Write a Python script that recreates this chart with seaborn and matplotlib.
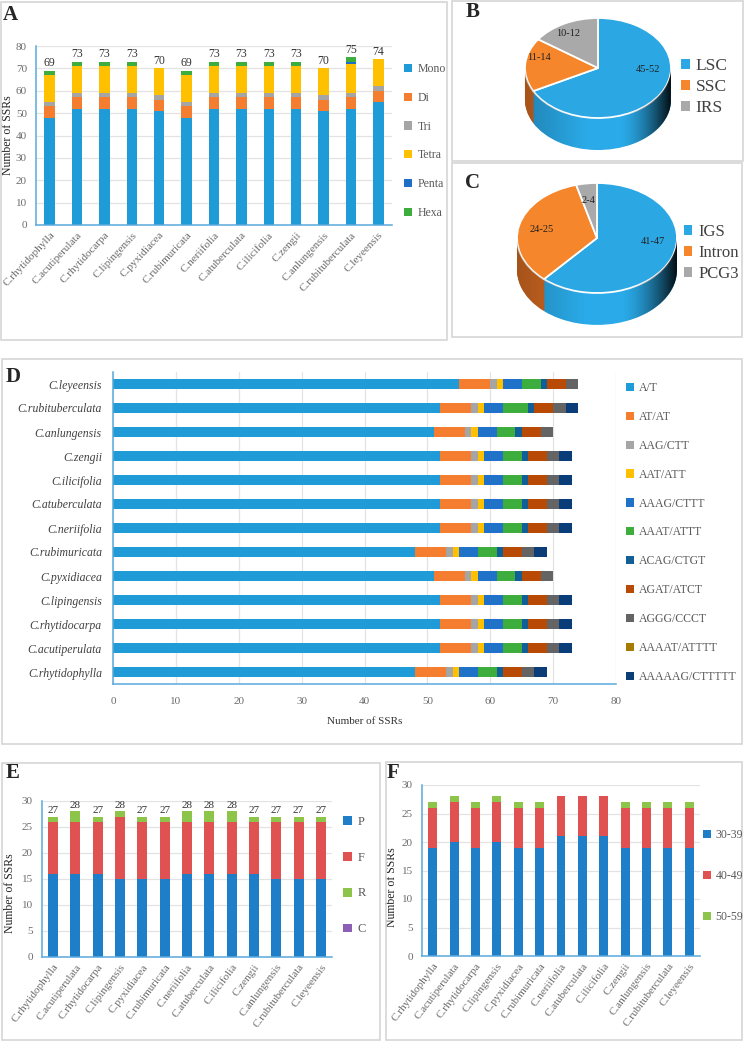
import numpy as np
import seaborn as sns
import matplotlib.pyplot as plt
from matplotlib.patches import Patch, Rectangle, PathPatch
from matplotlib.path import Path

SPECIES = ['C.rhytidophylla', 'C.acutiperulata', 'C.rhytidocarpa',
           'C.lipingensis', 'C.pyxidiacea', 'C.rubimuricata', 'C.neriifolia',
           'C.atuberculata', 'C.ilicifolia', 'C.zengii', 'C.anlungensis',
           'C.rubituberculata', 'C.leyeensis']

# panel A: SSR types
TYPE_NAMES = ['Mono', 'Di', 'Tri', 'Tetra', 'Penta', 'Hexa']
MONO = [48, 52, 52, 52, 51, 48, 52, 52, 52, 52, 51, 52, 55]
DI = [5, 5, 5, 5, 5, 5, 5, 5, 5, 5, 5, 5, 5]
TRI = [2, 2, 2, 2, 2, 2, 2, 2, 2, 2, 2, 2, 2]
TETRA = [12, 12, 12, 12, 12, 12, 12, 12, 12, 12, 12, 13, 12]
PENTA = [0, 0, 0, 0, 0, 0, 0, 0, 0, 0, 0, 1, 0]
HEXA = [2, 2, 2, 2, 0, 2, 2, 2, 2, 2, 0, 2, 0]
TYPE_COLORS = ['#1f9bd7', '#f47d30', '#a5a5a5', '#ffc000', '#1f6fc5', '#3dae3d']

# panel B / C: location of SSRs
REGION_NAMES = ['LSC', 'SSC', 'IRS']
REGION_RANGES = ['45-52', '11-14', '10-12']
REGION_SHARE = [48.5, 12.5, 11]
PART_NAMES = ['IGS', 'Intron', 'PCG3']
PART_RANGES = ['41-47', '24-25', '2-4']
PART_SHARE = [44, 24.5, 3]
PIE_TOP = ['#2ba7e4', '#f5862b', '#a9a9a9']
PIE_SIDE = ['#2aaae8', '#d46a22', '#8e8e8e']

# panel D: repeat motifs
MOTIF_NAMES = ['A/T', 'AT/AT', 'AAG/CTT', 'AAT/ATT', 'AAAG/CTTT', 'AAAT/ATTT',
               'ACAG/CTGT', 'AGAT/ATCT', 'AGGG/CCCT', 'AAAAT/ATTTT',
               'AAAAAG/CTTTTT']
A_T = [48, 52, 52, 52, 51, 48, 52, 52, 52, 52, 51, 52, 55]
AT_AT = [5, 5, 5, 5, 5, 5, 5, 5, 5, 5, 5, 5, 5]
AAG = [1, 1, 1, 1, 1, 1, 1, 1, 1, 1, 1, 1, 1]
AAT = [1, 1, 1, 1, 1, 1, 1, 1, 1, 1, 1, 1, 1]
AAAG = [3, 3, 3, 3, 3, 3, 3, 3, 3, 3, 3, 3, 3]
AAAT = [3, 3, 3, 3, 3, 3, 3, 3, 3, 3, 3, 4, 3]
ACAG = [1, 1, 1, 1, 1, 1, 1, 1, 1, 1, 1, 1, 1]
AGAT = [3, 3, 3, 3, 3, 3, 3, 3, 3, 3, 3, 3, 3]
AGGG = [2, 2, 2, 2, 2, 2, 2, 2, 2, 2, 2, 2, 2]
AAAAT = [0, 0, 0, 0, 0, 0, 0, 0, 0, 0, 0, 0, 0]
AAAAAG = [2, 2, 2, 2, 0, 2, 2, 2, 2, 2, 0, 2, 0]
MOTIF_COLORS = ['#1f9bd7', '#f47d30', '#a5a5a5', '#ffc000', '#1f72c8',
                '#3dae3d', '#125e96', '#b84a05', '#646464', '#a57c00',
                '#0b3d78']

# panel E: repeat types
REPEAT_NAMES = ['P', 'F', 'R', 'C']
P_REP = [16, 16, 16, 15, 15, 15, 16, 16, 16, 16, 15, 15, 15]
F_REP = [10, 10, 10, 12, 11, 11, 10, 10, 10, 10, 11, 11, 11]
R_REP = [1, 2, 1, 1, 1, 1, 2, 2, 2, 1, 1, 1, 1]
C_REP = [0, 0, 0, 0, 0, 0, 0, 0, 0, 0, 0, 0, 0]
REPEAT_COLORS = ['#1f7ec8', '#e05252', '#8dc44a', '#8c5fb4']

# panel F: repeat length
LEN_NAMES = ['30-39', '40-49', '50-59']
LEN_30 = [19, 20, 19, 20, 19, 19, 21, 21, 21, 19, 19, 19, 19]
LEN_40 = [7, 7, 7, 7, 7, 7, 7, 7, 7, 7, 7, 7, 7]
LEN_50 = [1, 1, 1, 1, 1, 1, 0, 0, 0, 1, 1, 1, 1]
LEN_COLORS = ['#1f7ec8', '#e05252', '#8dc44a']

W, H = 744, 1042
AXIS_BLUE = '#5aaade'
TICK_GRAY = '#6b6b6b'

sns.set_style('white')
plt.rcParams['font.family'] = ['Liberation Serif', 'DejaVu Serif']


def axes_px(fig, left, top, right, bottom):
    return fig.add_axes([left / W, 1 - bottom / H,
                         (right - left) / W, (bottom - top) / H])


def panel_box(fig, left, top, right, bottom, letter, lx, ly):
    fig.add_artist(Rectangle((left / W, 1 - bottom / H),
                             (right - left) / W, (bottom - top) / H,
                             transform=fig.transFigure, fill=False,
                             edgecolor='#d6d6d6', linewidth=1.2))
    fig.text(lx / W, 1 - ly / H, letter, fontsize=15, fontweight='bold',
             ha='center', va='center')


def add_legend(fig, labels, colors, left, top, size, spacing, box=0.7,
               color='#595959', textpad=0.45):
    handles = [Patch(facecolor=c, edgecolor='none') for c in colors]
    fig.legend(handles, labels, loc='upper left',
               bbox_to_anchor=(left / W, 1 - top / H), frameon=False,
               fontsize=size, labelspacing=spacing, handlelength=box,
               handleheight=box, handletextpad=textpad, borderpad=0,
               borderaxespad=0, labelcolor=color)


def stacked_bars(ax, cats, layers, colors, width, horizontal=False):
    tops = np.cumsum(np.array(layers), axis=0)
    for top, color in zip(tops[::-1], colors[::-1]):
        if horizontal:
            sns.barplot(x=top, y=cats, order=cats, orient='h', color=color,
                        width=width, saturation=1, errorbar=None,
                        linewidth=0, ax=ax)
        else:
            sns.barplot(x=cats, y=top, order=cats, color=color, width=width,
                        saturation=1, errorbar=None, linewidth=0, ax=ax)


def style_axes(ax, grid_axis):
    sns.despine(ax=ax)
    for side in ['left', 'bottom']:
        ax.spines[side].set_color(AXIS_BLUE)
        ax.spines[side].set_linewidth(1.1)
    ax.grid(axis=grid_axis, color='#e3e3e3', linewidth=0.9)
    ax.set_axisbelow(True)
    ax.tick_params(colors=TICK_GRAY, labelsize=8, length=3, color=AXIS_BLUE)


def column_chart(ax, layers, colors, width, ymax, ystep, rot, label_size=0):
    stacked_bars(ax, SPECIES, layers, colors, width)
    if label_size:
        ax.bar_label(ax.containers[0], padding=1, fontsize=label_size,
                     color='#333333')
    ax.set_ylim(0, ymax)
    ax.set_yticks(np.arange(0, ymax + 1, ystep))
    style_axes(ax, 'y')
    ax.tick_params(axis='x', length=0, pad=4)
    ax.set_xticks(range(len(SPECIES)))
    ax.set_xticklabels(SPECIES, rotation=rot, ha='right',
                       rotation_mode='anchor', fontsize=8, color=TICK_GRAY)
    ax.set_ylabel('Number of SSRs', fontsize=8.5, color='#222222')


def pie3d(ax, values, ranges, label_pos, depth, xlim, ylim):
    for t in np.linspace(depth, 0, 45):
        ax.pie(values, colors=PIE_SIDE, startangle=90, counterclock=False,
               center=(0, -t), wedgeprops=dict(linewidth=0))
    ax.pie(values, colors=PIE_TOP, startangle=90, counterclock=False,
           wedgeprops=dict(edgecolor='white', linewidth=1.3))
    a = np.linspace(np.pi, 2 * np.pi, 120)
    xs = np.concatenate([np.cos(a), np.cos(a[::-1])])
    ys = np.concatenate([np.sin(a), np.sin(a[::-1]) - depth])
    band = PathPatch(Path(np.column_stack([xs, ys])), facecolor='none',
                     edgecolor='none')
    ax.add_patch(band)
    gx = np.linspace(-1, 1, 256)
    alpha = 0.92 * np.clip((gx - 0.3) / 0.7, 0, 1) ** 1.6 \
        + 0.22 * np.clip((-0.15 - gx) / 0.85, 0, 1)
    shade = np.zeros((1, 256, 4))
    shade[..., 3] = alpha
    im = ax.imshow(shade, extent=(-1, 1, -1 - depth, 0), aspect='auto',
                   zorder=5)
    im.set_clip_path(band)
    for text, (x, y) in zip(ranges, label_pos):
        ax.text(x, y, text, fontsize=7.5, color='#222222', ha='center',
                va='center', zorder=6)
    ax.set_aspect('auto')
    ax.set_xlim(*xlim)
    ax.set_ylim(*ylim)
    ax.axis('off')


fig = plt.figure(figsize=(W / 100, H / 100), dpi=100)
fig.patch.set_facecolor('white')

# ---- A
panel_box(fig, 1, 2, 447, 340, 'A', 10, 15)
ax_a = axes_px(fig, 36, 46, 392, 225)
column_chart(ax_a, [MONO, DI, TRI, TETRA, PENTA, HEXA], TYPE_COLORS, 0.38,
             80, 10, 47, 8.5)
ax_a.yaxis.set_label_coords(-0.062, 0.5)
add_legend(fig, TYPE_NAMES, TYPE_COLORS, 404, 63, 8.5, 1.42)

# ---- B
panel_box(fig, 452, 1, 743, 161, 'B', 473, 12)
ax_b = axes_px(fig, 518, 10, 678, 160)
pie3d(ax_b, REGION_SHARE, REGION_RANGES,
      [(0.68, -0.04), (-0.81, 0.2), (-0.41, 0.7)], 0.64,
      (-80 / 73, 80 / 73), (-1.84, 1.16))
add_legend(fig, REGION_NAMES, PIE_TOP, 681, 58, 12.5, 0.3, box=0.5,
           color='#404040', textpad=0.35)

# ---- C
panel_box(fig, 452, 163, 742, 337, 'C', 472, 183)
ax_c = axes_px(fig, 512, 178, 682, 335)
pie3d(ax_c, PART_SHARE, PART_RANGES,
      [(0.70, -0.07), (-0.69, 0.16), (-0.1, 0.69)], 0.58,
      (-85 / 80, 85 / 80), (-97 / 55, 60 / 55))
add_legend(fig, PART_NAMES, PIE_TOP, 684, 224, 12, 0.3, box=0.5,
           color='#404040', textpad=0.35)

# ---- D
panel_box(fig, 2, 359, 742, 744, 'D', 13, 377)
ax_d = axes_px(fig, 113, 372, 616, 684)
species_d = SPECIES[::-1]
motifs = [A_T, AT_AT, AAG, AAT, AAAG, AAAT, ACAG, AGAT, AGGG, AAAAT, AAAAAG]
stacked_bars(ax_d, species_d, [m[::-1] for m in motifs], MOTIF_COLORS, 0.42,
             horizontal=True)
ax_d.set_xlim(0, 80)
ax_d.set_xticks(np.arange(0, 81, 10))
style_axes(ax_d, 'x')
ax_d.tick_params(axis='y', length=0, pad=8)
ax_d.tick_params(axis='x', length=4, pad=5)
ax_d.set_yticks(range(len(species_d)))
ax_d.set_yticklabels(species_d, fontsize=8.5, style='italic',
                     color='#404040')
ax_d.set_xlabel('Number of SSRs', fontsize=8, color='#333333', labelpad=8)
add_legend(fig, MOTIF_NAMES, MOTIF_COLORS, 626, 382, 8.5, 1.43,
           textpad=0.35)

# ---- E
panel_box(fig, 2, 763, 380, 1040, 'E', 13, 773)
ax_e = axes_px(fig, 42, 801, 332, 957)
column_chart(ax_e, [P_REP, F_REP, R_REP, C_REP], REPEAT_COLORS, 0.45,
             30, 5, 53, 8)
ax_e.yaxis.set_label_coords(-0.09, 0.41)
add_legend(fig, REPEAT_NAMES, REPEAT_COLORS, 343, 816, 9, 1.9)

# ---- F
panel_box(fig, 386, 762, 742, 1040, 'F', 393, 773)
ax_f = axes_px(fig, 422, 785, 700, 956)
column_chart(ax_f, [LEN_30, LEN_40, LEN_50], LEN_COLORS, 0.42, 30, 5, 53)
ax_f.yaxis.set_label_coords(-0.085, 0.4)
add_legend(fig, LEN_NAMES, LEN_COLORS, 703, 829, 8.5, 2.45, textpad=0.35)

fig.savefig('out.png', dpi=100, facecolor='white')
